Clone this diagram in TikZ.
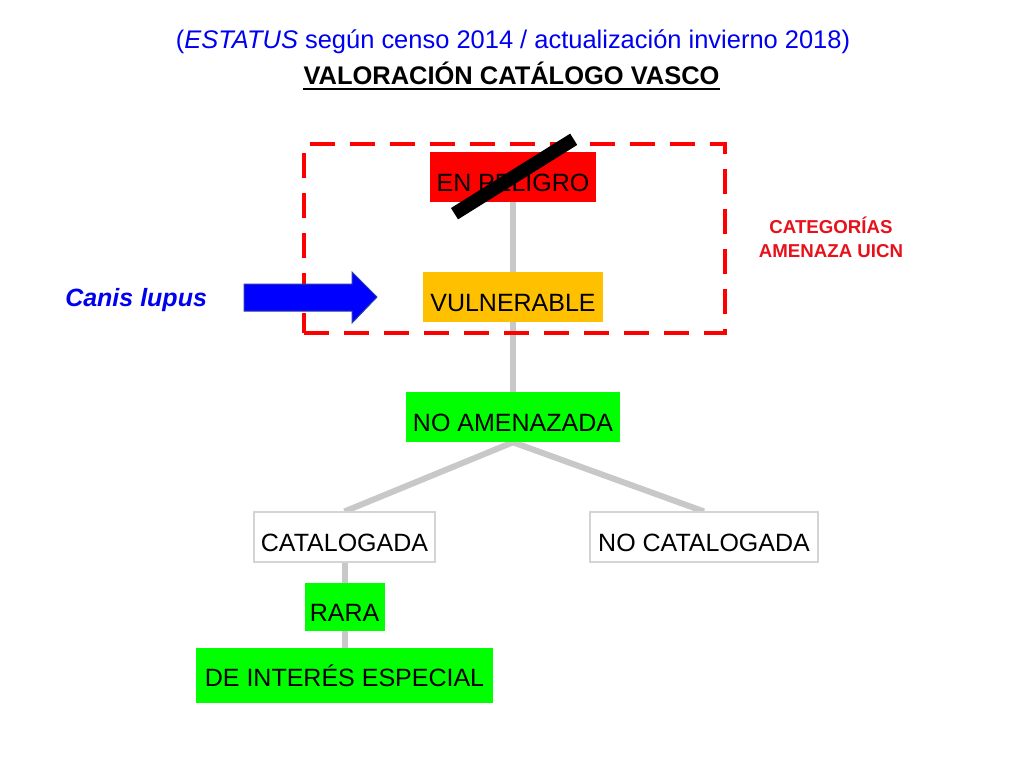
\documentclass[tikz,border=0pt]{standalone}
\usepackage{fontspec}
\setmainfont{Liberation Sans}
\usetikzlibrary{backgrounds}
\definecolor{boxgreen}{HTML}{00FF00}
\definecolor{boxorange}{HTML}{FFC000}
\definecolor{boxred}{HTML}{FF0000}
\definecolor{linkgrey}{HTML}{C8C8C8}
\definecolor{frameline}{HTML}{D4D4D4}
\definecolor{titleblue}{HTML}{0000F0}
\definecolor{arrowblue}{HTML}{0000FF}
\definecolor{arrowedge}{HTML}{2A3FA8}
\definecolor{catred}{HTML}{E8101A}
\begin{document}
\begin{tikzpicture}[x=0.75pt,y=-0.75pt]
\tikzset{
  lvl/.style={inner sep=0pt, text height=21pt, text depth=0pt,
    font=\fontsize{18.75}{22}\selectfont, align=center},
  sz/.style 2 args={minimum width=#1*0.75pt, minimum height=#2*0.75pt},
  link/.style={draw=linkgrey, line width=4.5pt},
  whitebox/.style={lvl, fill=white, draw=frameline, line width=0.8pt},
}
\useasboundingbox (0,0) rectangle (1024,768);

% titles
\node[anchor=base, inner sep=0pt, text=titleblue, font=\fontsize{19.1}{22}\selectfont]
  (t1) at (513,48) {(\textit{ESTATUS} según censo 2014 / actualización invierno 2018)};
\node[anchor=base, inner sep=0pt, font=\fontsize{19.1}{22}\selectfont\bfseries]
  (t2) at (511.5,84) {VALORACIÓN CATÁLOGO VASCO};
\draw[line width=1.5pt] ([yshift=-3.9pt]t2.base west) -- ([yshift=-3.9pt]t2.base east);

% dashed frame of threat categories
\node[draw=boxred, line width=3pt, dash pattern=on 19pt off 11pt, sz={421}{189}, inner sep=0pt]
  (frame) at (514.5,238.5) {};

% category label
\node[anchor=base, inner sep=0pt, text=catred, font=\fontsize{14}{17}\selectfont\bfseries]
  (catl1) at (831,233) {CATEGORÍAS};
\node[anchor=base, inner sep=0pt, text=catred, font=\fontsize{14}{17}\selectfont\bfseries]
  (catl2) at (831,257) {AMENAZA UICN};

% level boxes
\node[lvl, sz={166}{50}, fill=boxred] (peligro) at (513,177) {EN PELIGRO};
\node[lvl, sz={180}{50}, fill=boxorange] (vuln) at (513,297) {VULNERABLE};
\node[lvl, sz={214}{50}, fill=boxgreen] (noamen) at (513,417) {NO AMENAZADA};
\node[whitebox, sz={181}{50}] (cat) at (344.5,537) {CATALOGADA};
\node[whitebox, sz={228}{50}] (nocat) at (704,537) {NO CATALOGADA};
\node[lvl, sz={80}{48}, fill=boxgreen] (rara) at (344.5,607) {RARA};
\node[lvl, sz={297}{55}, fill=boxgreen, text height=17pt] (interes) at (344.5,675.5) {DE INTERÉS ESPECIAL};

% connectors
\begin{scope}[on background layer]
  \fill[white] (0,0) rectangle (1024,768);
  \draw[link] (peligro.south) -- (vuln.north);
  \draw[link] (vuln.south) -- (noamen.north);
  \draw[link] (noamen.south) -- (cat.north);
  \draw[link] (noamen.south) -- (nocat.north);
  \draw[link] (cat.south) -- (rara.north);
  \draw[link] (rara.south) -- (interes.north);
\end{scope}

% strike-through bar
\draw[black, line width=10pt] (454.5,213.7) -- (573.7,139.3);

% species and arrow
\node[anchor=base west, inner sep=0pt, text=titleblue, font=\fontsize{18.75}{22}\selectfont\bfseries\itshape]
  (canis) at (65,306) {Canis lupus};
\filldraw[fill=arrowblue, draw=arrowedge, line width=0.75pt]
  (244,284) -- (352,284) -- (352,272) -- (377,297) -- (352,323) -- (352,311) -- (244,311) -- cycle;
\end{tikzpicture}
\end{document}
